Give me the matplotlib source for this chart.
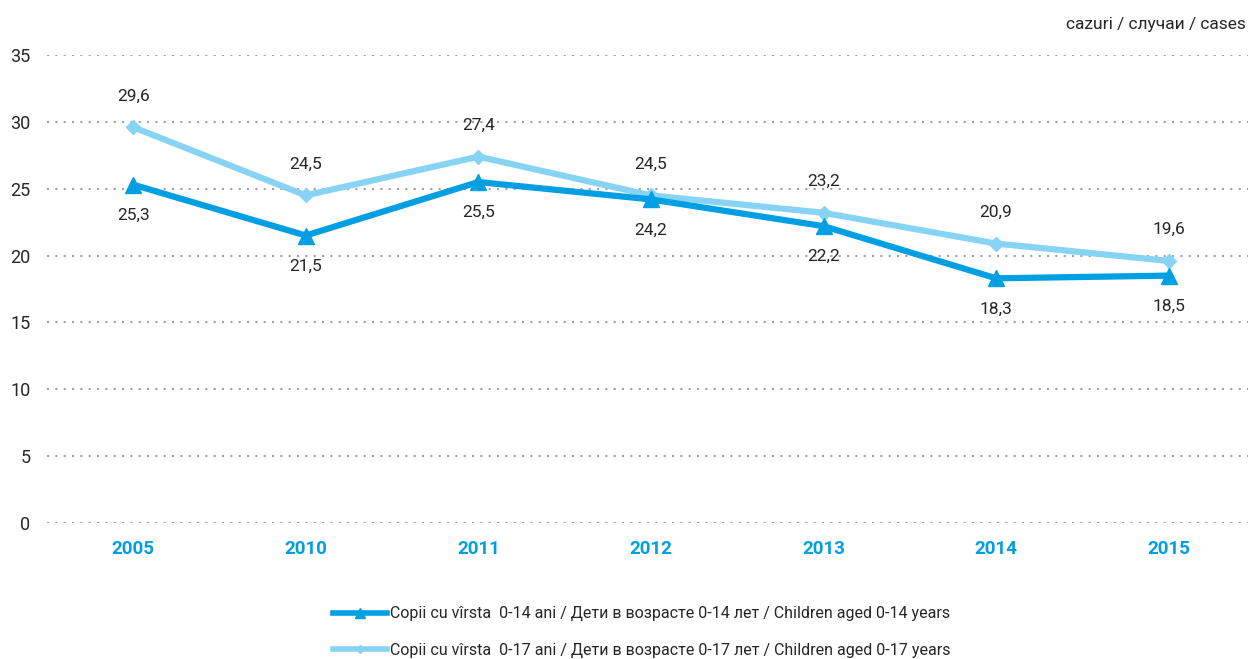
import matplotlib.pyplot as plt

# date
ani = ['2005', '2010', '2011', '2012', '2013', '2014', '2015']
copii_0_14 = [25.3, 21.5, 25.5, 24.2, 22.2, 18.3, 18.5]
copii_0_17 = [29.6, 24.5, 27.4, 24.5, 23.2, 20.9, 19.6]
eticheta_0_14 = 'Copii cu vîrsta  0-14 ani / Дети в возрасте 0-14 лет / Children aged 0-14 years'
eticheta_0_17 = 'Copii cu vîrsta  0-17 ani / Дети в возрасте 0-17 лет / Children aged 0-17 years'

albastru = '#009fe3'
albastru_deschis = '#87d3f4'
text_color = '#262626'

plt.rcParams['font.family'] = ['Roboto', 'DejaVu Sans']

fig = plt.figure(figsize=(12.48, 6.59), dpi=100)
ax = fig.add_axes([47 / 1248, 1 - 523 / 659, 1 - 47 / 1248, (523 - 55) / 659])

x = list(range(len(ani)))
l1, = ax.plot(x, copii_0_14, color=albastru, lw=4.5, marker='^', ms=11, zorder=3)
l2, = ax.plot(x, copii_0_17, color=albastru_deschis, lw=4.5, marker='D', ms=7.5, zorder=2)

for i in x:
    ax.annotate(f'{copii_0_14[i]:.1f}'.replace('.', ','), (i, copii_0_14[i]),
                xytext=(0, -22), textcoords='offset points', ha='center', va='center',
                fontsize=12.5, color=text_color)
    ax.annotate(f'{copii_0_17[i]:.1f}'.replace('.', ','), (i, copii_0_17[i]),
                xytext=(0, 22.5), textcoords='offset points', ha='center', va='center',
                fontsize=12.5, color=text_color)

ax.set_xlim(-0.5, 6.46)
ax.set_ylim(0, 35)
ax.set_yticks(range(0, 36, 5))
ax.set_xticks(x)
ax.set_xticklabels(ani, fontsize=13.5, fontweight='bold', color=albastru)
ax.tick_params(axis='y', labelsize=13, labelcolor=text_color, length=0, pad=12)
ax.tick_params(axis='x', length=0, pad=12)
ax.grid(axis='y', linestyle=(0, (1, 3)), color='#a0a0a0', lw=1.5)
ax.set_axisbelow(True)
for s in ax.spines.values():
    s.set_visible(False)

fig.text(1246 / 1248, 1 - 24 / 659, 'cazuri / случаи / cases', ha='right', va='center',
         fontsize=12.5, color=text_color)

leg = fig.legend([l1, l2], [eticheta_0_14, eticheta_0_17], loc='center',
                 bbox_to_anchor=(0.514, 1 - 632 / 659), frameon=False, fontsize=11.5,
                 handlelength=3.4, handletextpad=0.15, labelspacing=1.35, markerscale=0.6)
for t in leg.get_texts():
    t.set_color(text_color)
for h in leg.legend_handles:
    h.set_linewidth(4)

plt.savefig('out.png', dpi=100)
